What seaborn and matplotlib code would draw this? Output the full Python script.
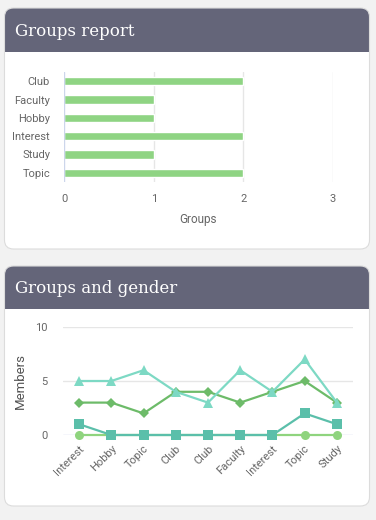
import matplotlib
matplotlib.use("Agg")
import matplotlib.pyplot as plt
from matplotlib.patches import FancyBboxPatch, Rectangle
import seaborn as sns
import pandas as pd

sns.set_theme(style="white")
plt.rcParams['font.family'] = ['Roboto', 'DejaVu Sans']

# ---- data ----
group_types = ["Club", "Faculty", "Hobby", "Interest", "Study", "Topic"]
group_counts = [2, 1, 1, 2, 1, 2]
bar_ticks = [0, 1, 2, 3]

gender_groups = ["Interest", "Hobby", "Topic", "Club", "Club", "Faculty", "Interest", "Topic", "Study"]
series_triangle = [5, 5, 6, 4, 3, 6, 4, 7, 3]
series_diamond = [3, 3, 2, 4, 4, 3, 4, 5, 3]
series_square = [1, 0, 0, 0, 0, 0, 0, 2, 1]
series_circle = [0, 0, 0, 0, 0, 0, 0, 0, 0]
member_ticks = [0, 5, 10]

W, H = 376, 520
fig = plt.figure(figsize=(W / 100, H / 100), dpi=100)
fig.patch.set_facecolor("#f2f2f2")

def fx(x): return x / W
def fy(y): return 1 - y / H

HEADER = "#646579"
TEXT = "#666666"

# background axes in pixel coordinates for the cards
bg = fig.add_axes([0, 0, 1, 1], zorder=0)
bg.set_xlim(0, W)
bg.set_ylim(H, 0)
bg.axis("off")

def card(y0, y1, hdr_bottom, title):
    x0, x1 = 4.5, 369.5
    r = 9
    bg.add_patch(FancyBboxPatch((x0, y0), x1 - x0, y1 - y0,
                                boxstyle=f"round,pad=0,rounding_size={r}",
                                facecolor="white", edgecolor="none", zorder=1))
    bg.add_patch(FancyBboxPatch((x0, y0), x1 - x0, hdr_bottom - y0,
                                boxstyle=f"round,pad=0,rounding_size={r}",
                                facecolor=HEADER, edgecolor="none", zorder=2))
    bg.add_patch(Rectangle((x0, hdr_bottom - 15), x1 - x0, 15,
                           facecolor=HEADER, edgecolor="none", zorder=2))
    bg.add_patch(FancyBboxPatch((x0, y0), x1 - x0, y1 - y0,
                                boxstyle=f"round,pad=0,rounding_size={r}",
                                facecolor="none", edgecolor="#dcdcdc",
                                linewidth=0.8, zorder=3))
    bg.text(15, (y0 + hdr_bottom) / 2 + 1, title, color="white",
            fontsize=12, family=["DejaVu Serif"], va="center", ha="left", zorder=4)

card(8, 249, 52, "Groups report")
card(266, 506, 309, "Groups and gender")

# ---- bar chart ----
ax1 = fig.add_axes([fx(64), fy(182), fx(333 - 64), (182 - 72) / H], zorder=2)
df1 = pd.DataFrame({"type": group_types, "count": group_counts})
sns.barplot(data=df1, x="count", y="type", orient="h", color="#8fd483",
            width=0.44, saturation=1, ax=ax1, zorder=3)
ax1.set_xlim(0, 3)
ax1.set_ylim(len(group_types) - 0.5, -0.5)
ax1.set_xticks(bar_ticks)
ax1.set_xticklabels([str(t) for t in bar_ticks])
for sp in ax1.spines.values():
    sp.set_visible(False)
ax1.grid(False)
for t in bar_ticks[1:]:
    ax1.axvline(t, color="#e6e6e6", lw=1, zorder=1)
ax1.axvline(0, color="#ccd6eb", lw=1, zorder=4)
ax1.tick_params(axis="y", length=0, pad=10, labelsize=8, labelcolor=TEXT)
ax1.tick_params(axis="x", length=0, pad=9, labelsize=8, labelcolor=TEXT)
ax1.set_ylabel("")
ax1.set_xlabel("Groups", fontsize=8.5, color=TEXT, labelpad=6)
ax1.set_facecolor("none")

# ---- line chart ----
ax2 = fig.add_axes([fx(63), fy(435), fx(353 - 63), (435 - 327) / H], zorder=2)
xs = list(range(len(gender_groups)))
specs = [
    (series_circle, "#8fd47e", "o", 6.5),
    (series_square, "#5bbfaa", "s", 6.5),
    (series_diamond, "#6dbb69", "D", 5.3),
    (series_triangle, "#7dd9c4", "^", 7.5),
]
for i, (vals, col, mk, ms) in enumerate(specs):
    d = pd.DataFrame({"x": xs, "y": vals})
    sns.lineplot(data=d, x="x", y="y", color=col, marker=mk, markersize=ms,
                 markeredgewidth=0, linewidth=1.6, ax=ax2, zorder=5 + i, clip_on=False)
ax2.set_xlim(-0.5, len(xs) - 0.5)
ax2.set_ylim(0, 10)
ax2.set_yticks(member_ticks)
ax2.set_xticks(xs)
ax2.set_xticklabels(gender_groups, rotation=45, ha="right", rotation_mode="anchor")
for sp in ax2.spines.values():
    sp.set_visible(False)
ax2.grid(False)
for t in member_ticks[1:]:
    ax2.axhline(t, color="#e6e6e6", lw=1, zorder=1)
ax2.axhline(0, color="#ccd6eb", lw=1, zorder=2)
ax2.tick_params(axis="y", length=0, pad=11, labelsize=8, labelcolor=TEXT)
ax2.tick_params(axis="x", length=0, pad=6, labelsize=8, labelcolor=TEXT)
ax2.set_xlabel("")
ax2.set_ylabel("Members", fontsize=9.5, color="#555555", labelpad=6)
ax2.set_facecolor("none")

fig.savefig("out.png", dpi=100, facecolor=fig.get_facecolor())
